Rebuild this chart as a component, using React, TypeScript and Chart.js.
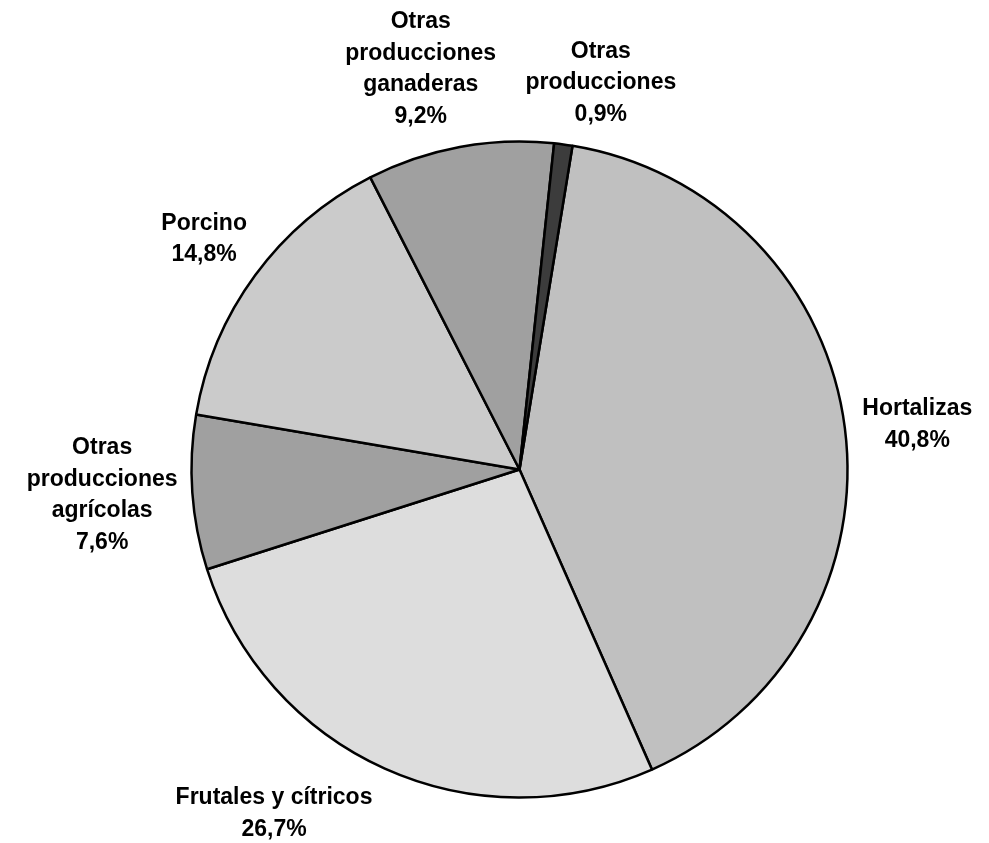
import React, { useEffect, useRef } from "react";
import { Chart, registerables } from "chart.js";

Chart.register(...registerables);

// Category names, already broken into the lines they are printed on
const categories: string[][] = [
  ["Hortalizas"],
  ["Frutales y cítricos"],
  ["Otras", "producciones", "agrícolas"],
  ["Porcino"],
  ["Otras", "producciones", "ganaderas"],
  ["Otras", "producciones"],
];

// Share of production (%)
const shares: number[] = [40.8, 26.7, 7.6, 14.8, 9.2, 0.9];

// Slice fills
const sliceColors: string[] = ["#c0c0c0", "#dddddd", "#a0a0a0", "#cbcbcb", "#a0a0a0", "#3c3c3c"];

// Extra shift (px) applied to each outside label after it is placed beside its slice
const labelShift: [number, number][] = [
  [0, 3],
  [-63, 0],
  [3, -3],
  [-2, -7],
  [-22, 2],
  [25, 3],
];

const W = 989;
const H = 843;
const FONT = 'bold 23px "Liberation Sans", Arial, sans-serif';
const LINE_H = 31.5;
const LABEL_GAP = 18;

const fmt = (v: number) => v.toFixed(1).replace(".", ",") + "%";

const outsideLabels = {
  id: "outsideLabels",
  afterDatasetsDraw(chart: any) {
    const ctx = chart.ctx as CanvasRenderingContext2D;
    const meta = chart.getDatasetMeta(0);
    ctx.save();
    ctx.font = FONT;
    ctx.fillStyle = "#000";
    ctx.textAlign = "center";
    ctx.textBaseline = "middle";
    meta.data.forEach((arc: any, i: number) => {
      const { x, y, startAngle, endAngle, outerRadius } = arc.getProps(
        ["x", "y", "startAngle", "endAngle", "outerRadius"],
        true
      );
      const mid = (startAngle + endAngle) / 2;
      const dx = Math.cos(mid);
      const dy = Math.sin(mid);
      const lines = [...categories[i], fmt(shares[i])];
      const w = Math.max(...lines.map((l) => ctx.measureText(l).width));
      const h = lines.length * LINE_H;
      const r = outerRadius + LABEL_GAP;
      const cx = x + dx * r + (dx * w) / 2 + labelShift[i][0];
      const cy = y + dy * r + (dy * h) / 2 + labelShift[i][1];
      lines.forEach((line, k) => {
        ctx.fillText(line, cx, cy + (k - (lines.length - 1) / 2) * LINE_H);
      });
    });
    ctx.restore();
  },
};

export default function App() {
  const canvasRef = useRef<HTMLCanvasElement | null>(null);

  useEffect(() => {
    if (!canvasRef.current) return;
    const chart = new Chart(canvasRef.current, {
      type: "pie",
      data: {
        labels: categories,
        datasets: [
          {
            data: shares,
            backgroundColor: sliceColors,
            borderColor: "#000000",
            borderWidth: 2.5,
          },
        ],
      },
      options: {
        responsive: false,
        animation: false,
        devicePixelRatio: 1,
        rotation: 9.3,
        radius: 328,
        layout: { padding: { top: 141, bottom: 45, left: 191, right: 141 } },
        plugins: {
          legend: { display: false },
          tooltip: { enabled: false },
        },
        events: [],
      } as any,
      plugins: [outsideLabels],
    });
    return () => chart.destroy();
  }, []);

  return (
    <div style={{ position: "fixed", left: 0, top: 0, width: W, height: H, background: "#fff" }}>
      <canvas ref={canvasRef} width={W} height={H} style={{ width: W, height: H, display: "block" }} />
    </div>
  );
}
